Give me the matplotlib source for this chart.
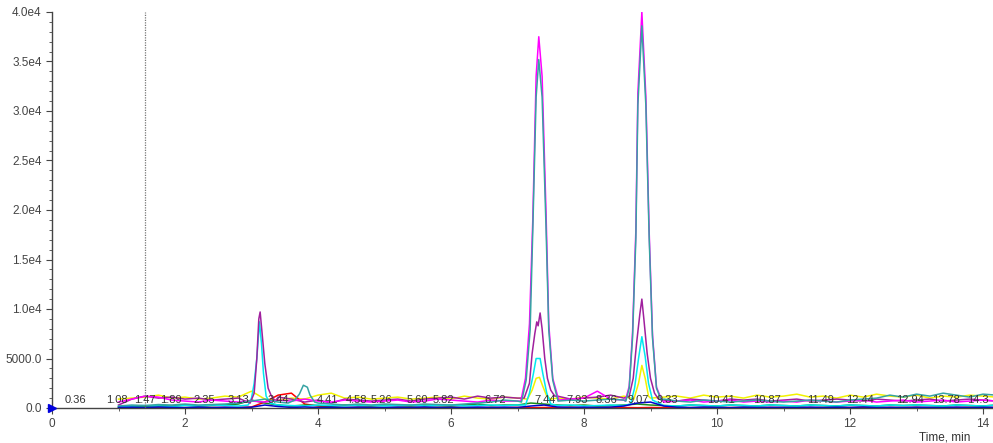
import matplotlib
matplotlib.use("Agg")
import matplotlib.pyplot as plt
from matplotlib.ticker import MultipleLocator

plt.rcParams['font.family'] = ['Liberation Sans', 'DejaVu Sans']

# =========================
# DATA
# =========================
# baseline sample times, min
BASE_T = [round(1.0 + 0.2 * i, 1) for i in range(67)]

# baseline intensities, cps (rows of 10 samples: 1.0-2.8, 3.0-4.8, ...)
yellow_base = [900, 1000, 1100, 1300, 1000, 1100, 900, 1000, 1200, 1100,
               1700, 900, 800, 1000, 900, 1300, 1500, 1000, 1100, 900,
               1000, 1100, 900, 1000, 1100, 900, 1200, 1000, 900, 1100,
               1000, 1000, 1000, 1000, 900, 1100, 1000, 900, 1200, 1000,
               1000, 1100, 1200, 1000, 1300, 1100, 1200, 1000, 1300, 1100,
               1200, 1400, 1100, 1200, 1000, 1300, 1100, 1400, 1200, 1100,
               1300, 1000, 1200, 1100, 1300, 1200, 1100]
purple_base = [300, 900, 1200, 1000, 1100, 900, 1000, 800, 900, 1000,
               900, 1000, 1100, 900, 600, 800, 500, 900, 800, 700,
               800, 900, 700, 900, 1000, 1100, 900, 1200, 1000, 1100,
               1000, 1000, 1000, 1200, 900, 1000, 1100, 1300, 1000, 1000,
               1000, 800, 700, 900, 800, 700, 900, 800, 900, 700,
               800, 900, 700, 800, 900, 800, 700, 900, 800, 700,
               800, 900, 700, 800, 900, 800, 700]
teal_base = [200, 300, 250, 350, 300, 400, 300, 350, 400, 500,
             700, 900, 600, 600, 600, 500, 400, 300, 400, 300,
             400, 350, 300, 400, 350, 300, 400, 500, 600, 800,
             700, 700, 700, 900, 800, 700, 800, 900, 800, 800,
             800, 900, 700, 600, 800, 700, 600, 700, 800, 700,
             600, 700, 800, 700, 600, 800, 900, 1000, 1300, 1100,
             1400, 1200, 1500, 1300, 1100, 1400, 1300]
magenta_base = [600, 900, 1200, 1100, 800, 700, 600, 800, 700, 600,
                700, 600, 800, 700, 900, 700, 600, 800, 700, 600,
                700, 800, 600, 700, 900, 800, 700, 600, 800, 700,
                700, 700, 700, 800, 900, 1000, 1700, 900, 800, 800,
                800, 600, 700, 800, 600, 700, 800, 600, 700, 600,
                700, 600, 800, 700, 600, 700, 800, 600, 700, 800,
                600, 700, 800, 600, 700, 800, 700]
cyan_base = [100, 200, 250, 200, 150, 250, 200, 300, 250, 200,
             250, 250, 300, 250, 200, 300, 250, 200, 300, 250,
             200, 250, 300, 200, 250, 300, 200, 250, 300, 250,
             300, 300, 300, 250, 300, 200, 250, 300, 250, 250,
             250, 250, 200, 300, 250, 200, 300, 250, 200, 300,
             250, 200, 300, 250, 200, 300, 250, 200, 300, 250,
             300, 250, 200, 300, 250, 200, 300]
blue_base = [50, 80, 40, 100, 60, 30, 90, 50, 70, 40,
             80, 300, 150, 60, 100, 50, 80, 40, 90, 60,
             40, 80, 60, 100, 50, 70, 40, 90, 60, 80,
             50, 200, 300, 100, 60, 80, 50, 90, 200, 500,
             600, 200, 80, 50, 90, 60, 40, 80, 50, 70,
             60, 40, 90, 50, 80, 60, 100, 40, 70, 50,
             80, 60, 40, 90, 50, 70, 60]
red_base = [0, 50, 30, 60, 20, 50, 40, 30, 60, 40,
            100, 600, 1300, 1500, 400, 200, 100, 60, 40, 50,
            40, 60, 30, 50, 70, 40, 60, 30, 50, 40,
            60, 30, 50, 40, 70, 30, 60, 40, 50, 30,
            50, 40, 60, 30, 50, 70, 40, 60, 30, 50,
            40, 60, 30, 50, 70, 40, 60, 30, 50, 40,
            60, 30, 50, 40, 70, 30, 50]
green_base = [100, 200, 150, 250, 200, 300, 200, 250, 300, 400,
              800, 500, 300, 200, 300, 250, 200, 300, 250, 200,
              300, 250, 200, 300, 250, 200, 300, 400, 250, 300,
              300, 500, 400, 300, 250, 300, 200, 250, 300, 400,
              300, 250, 200, 300, 250, 200, 300, 250, 200, 300,
              250, 200, 300, 250, 200, 300, 250, 200, 300, 250,
              300, 250, 200, 300, 250, 200, 300]

# peaks: (times, intensities)
teal_peaks = [
    ([3.55, 3.65, 3.72, 3.78, 3.84, 3.88, 3.95],
     [500, 800, 1400, 2300, 2100, 1300, 600]),
    ([7.06, 7.13, 7.19, 7.23, 7.28, 7.32, 7.37, 7.43, 7.47, 7.53, 7.61],
     [600, 2800, 7900, 18000, 31400, 35200, 31400, 18000, 7900, 2800, 700]),
    ([8.63, 8.68, 8.73, 8.78, 8.81, 8.87, 8.93, 8.98, 9.03, 9.09, 9.16],
     [700, 2000, 7100, 17200, 30600, 38600, 30600, 17200, 7100, 2000, 800]),
]
magenta_peaks = [
    ([7.05, 7.12, 7.18, 7.23, 7.28, 7.32, 7.37, 7.43, 7.47, 7.53, 7.62],
     [700, 3000, 8500, 19000, 33500, 37500, 33500, 19500, 8500, 3000, 800]),
    ([8.62, 8.68, 8.73, 8.78, 8.81, 8.87, 8.93, 8.98, 9.03, 9.09, 9.17],
     [700, 2200, 7600, 18000, 31800, 40000, 31500, 17800, 7400, 2100, 800]),
]
purple_peaks = [
    ([2.98, 3.04, 3.08, 3.11, 3.13, 3.16, 3.20, 3.25, 3.30, 3.36],
     [500, 1500, 5000, 9000, 9700, 7500, 4500, 2000, 1200, 700]),
    ([7.10, 7.18, 7.22, 7.26, 7.29, 7.31, 7.34, 7.37, 7.41, 7.45, 7.50, 7.56],
     [1000, 2500, 5500, 7500, 8700, 8300, 9600, 8000, 5000, 3000, 1800, 1200]),
    ([8.68, 8.74, 8.79, 8.84, 8.87, 8.90, 8.95, 9.00, 9.06, 9.12],
     [1200, 3000, 6500, 9500, 11000, 9000, 5500, 3000, 1500, 900]),
]
cyan_peaks = [
    ([2.95, 3.00, 3.04, 3.08, 3.12, 3.15, 3.18, 3.22, 3.28],
     [300, 1000, 2500, 5000, 8700, 6500, 3500, 1200, 500]),
    ([7.12, 7.18, 7.24, 7.28, 7.34, 7.38, 7.44, 7.50],
     [300, 1500, 3500, 5000, 5000, 3500, 1500, 400]),
    ([8.70, 8.76, 8.82, 8.87, 8.92, 8.97, 9.03],
     [400, 2000, 5000, 7200, 5200, 2500, 800]),
]
yellow_peaks = [
    ([7.15, 7.22, 7.28, 7.33, 7.38, 7.44, 7.50],
     [900, 1800, 3000, 3100, 2200, 1200, 900]),
    ([8.75, 8.82, 8.87, 8.92, 8.97],
     [900, 2500, 4300, 3000, 1200]),
]

# retention time labels and where they sit on the time axis
rt_labels = ["0.36", "1.08", "1.47", "1.89", "2.35", "3.13", "3.44", "4.41",
             "4.58", "5.26", "5.60", "5.82", "6.72", "7.44", "7.93", "8.36",
             "9.07", "9.33", "10.41", "10.87", "11.49", "12.44", "12.94",
             "13.78", "14.3"]
rt_label_x = [0.35, 0.98, 1.40, 1.79, 2.29, 2.80, 3.40, 4.15,
              4.58, 4.95, 5.49, 5.89, 6.66, 7.41, 7.89, 8.33,
              8.81, 9.26, 10.06, 10.75, 11.55, 12.15, 12.90,
              13.45, 13.92]

y_ticks = [0, 5000, 10000, 15000, 20000, 25000, 30000, 35000, 40000]
y_tick_labels = ["0.0", "5000.0", "1.0e4", "1.5e4", "2.0e4", "2.5e4",
                 "3.0e4", "3.5e4", "4.0e4"]
x_ticks = [0, 2, 4, 6, 8, 10, 12, 14]


def build(base_y, peaks):
    pts = []
    for t, y in zip(BASE_T, base_y):
        if any(pt[0] <= t <= pt[-1] for pt, _ in peaks):
            continue
        pts.append((t, y))
    for pt, py in peaks:
        pts += list(zip(pt, py))
    pts.sort()
    ts, ys = zip(*pts)
    return ts, ys


traces = [
    (yellow_base, yellow_peaks, "#F2F200"),
    (red_base, [], "#FF0000"),
    (green_base, [], "#1A8A1A"),
    (cyan_base, cyan_peaks, "#00E8F0"),
    (purple_base, purple_peaks, "#A0209E"),
    (magenta_base, magenta_peaks, "#FF00FF"),
    (teal_base, teal_peaks, "#36A3A3"),
    (blue_base, [], "#0000CC"),
]

# =========================
# PLOT
# =========================
W, H = 993, 443
fig = plt.figure(figsize=(W / 100, H / 100), dpi=100)
ax = fig.add_axes([52 / W, 1 - 408 / H, (W - 52) / W, (408 - 12) / H])

for base, peaks, col in traces:
    ts, ys = build(base, peaks)
    ax.plot(ts, ys, color=col, lw=1.1)

ax.axvline(1.40, color="#777777", lw=0.9, ls=(0, (1, 1)))

for lab, x in zip(rt_labels, rt_label_x):
    ax.text(x, 350, lab, fontsize=8, color="#333333", ha="center", va="bottom")

ax.plot([0], [0], marker=">", color="#0000DD", ms=6, clip_on=False, zorder=10)

ax.set_xlim(0, (W - 52) / 66.5)
ax.set_ylim(0, 40000)
ax.spines["top"].set_visible(False)
ax.spines["right"].set_visible(False)
for s in ("left", "bottom"):
    ax.spines[s].set_color("#444444")
    ax.spines[s].set_linewidth(1.0)

ax.set_yticks(y_ticks)
ax.set_yticklabels(y_tick_labels)
ax.set_xticks(x_ticks)
ax.yaxis.set_minor_locator(MultipleLocator(1000))
ax.xaxis.set_minor_locator(MultipleLocator(1))
ax.tick_params(axis="both", labelsize=8.5, colors="#444444", length=4, width=0.8)
ax.tick_params(which="minor", length=2, width=0.6, colors="#444444")

fig.text(945 / W, 1 - 437 / H, "Time, min", fontsize=8.5, color="#333333",
         ha="center", va="center")

fig.savefig("out.png", dpi=100)
